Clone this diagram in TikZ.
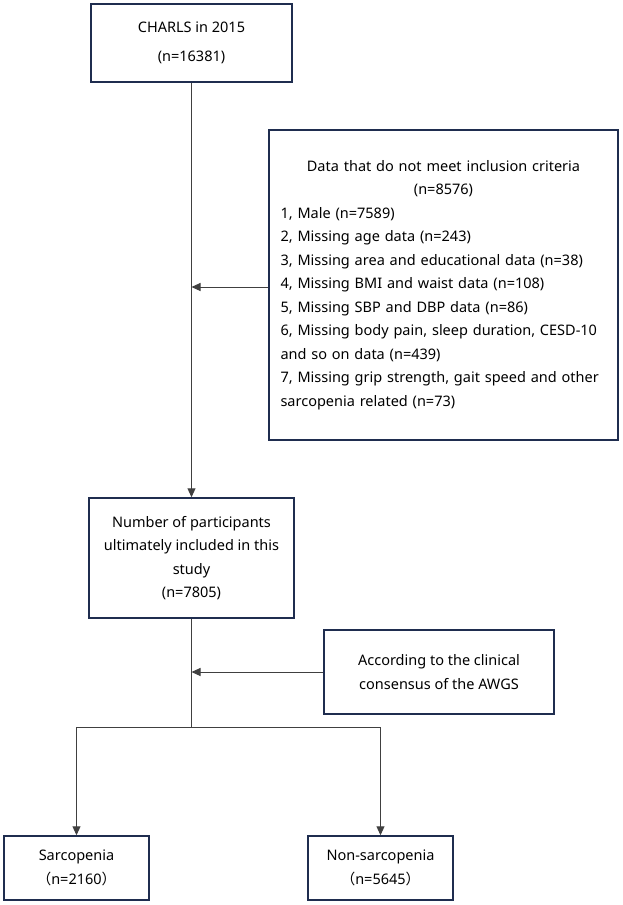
\documentclass[tikz,border=0pt]{standalone}
\usepackage{fontspec}
\setmainfont{Noto Sans}
\newfontfamily\cjk{Noto Sans CJK SC}
\usetikzlibrary{arrows.meta}
\definecolor{boxc}{HTML}{1F2D4F}
\definecolor{linec}{HTML}{404040}
\begin{document}
\begin{tikzpicture}[x=1pt,y=-1pt,
  box/.style={draw=boxc, line width=1.5pt, inner sep=0pt, font=\fontsize{14.5}{23.5}\selectfont, align=center},
  conn/.style={draw=linec, line width=1pt},
  arr/.style={conn, -{Triangle[length=9pt,width=8pt]}}]
\useasboundingbox (0,0) rectangle (623,905);
\node[box, minimum width=201pt, minimum height=78pt, font=\fontsize{14.5}{29}\selectfont] (b1) at (191.5,43) {CHARLS in 2015\\(n=16381)};
\node[box, minimum width=349pt, minimum height=310pt, text width=326pt] (b2) at (443.5,285) {\centering Data that do not meet inclusion criteria\\(n=8576)\par\raggedright
1, Male (n=7589)\\
2, Missing age data (n=243)\\
3, Missing area and educational data (n=38)\\
4, Missing BMI and waist data (n=108)\\
5, Missing SBP and DBP data (n=86)\\
6, Missing body pain, sleep duration, CESD-10\\
and so on data (n=439)\\
7, Missing grip strength, gait speed and other\\
sarcopenia related (n=73)\par};
\node[box, minimum width=205pt, minimum height=120pt] (b3) at (191.5,558) {Number of participants\\ultimately included in this\\study\\(n=7805)};
\node[box, minimum width=230pt, minimum height=84pt] (b4) at (439,672) {According to the clinical\\consensus of the AWGS};
\node[box, minimum width=145pt, minimum height=64pt] (sarc) at (76.5,868) {Sarcopenia\\{\cjk （}n=2160{\cjk ）}};
\node[box, minimum width=145pt, minimum height=64pt] (non) at (380.5,868) {Non-sarcopenia\\{\cjk （}n=5645{\cjk ）}};
\coordinate (j1) at (191.5,287);
\coordinate (j2) at (191.5,672);
\coordinate (s) at (191.5,727);
\coordinate (sl) at (76.5,727);
\coordinate (sr) at (380.5,727);
\draw[arr] (b1.south) -- (b3.north);
\draw[arr] (b2.west |- j1) -- (j1);
\draw[conn] (b3.south) -- (s);
\draw[arr] (b4.west |- j2) -- (j2);
\draw[conn] (sl) -- (sr);
\draw[arr] (sl) -- (sarc.north);
\draw[arr] (sr) -- (non.north);
\end{tikzpicture}
\end{document}
